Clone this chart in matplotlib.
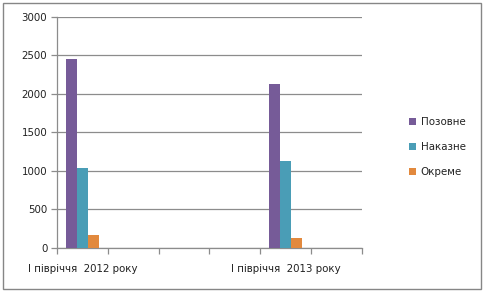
"""
Grouped bar chart: court cases by type, first half of 2012 vs 2013
"""

import matplotlib
matplotlib.use('Agg')
import matplotlib.pyplot as plt
from matplotlib.patches import Rectangle, Patch
import numpy as np

# data (6 category slots, only two carry values / labels)
categories = ['I півріччя  2012 року', '', '', '', 'I півріччя  2013 року', '']
series_names = ['Позовне', 'Наказне', 'Окреме']
pozovne = [2450, np.nan, np.nan, np.nan, 2125, np.nan]
nakazne = [1030, np.nan, np.nan, np.nan, 1125, np.nan]
okreme = [165, np.nan, np.nan, np.nan, 130, np.nan]

COLORS = ['#765B98', '#4A9DB6', '#E2893D']
GRID = '#8C8C8C'
FS = 7.4

W, H = 485, 293
fig = plt.figure(figsize=(W / 100, H / 100), dpi=100)
plt.rcParams['font.family'] = ['DejaVu Sans']

# axes area in pixel coords
x0, x1 = 57, 362
y_top, y_bot = 16.7, 247.7
ax = fig.add_axes([x0 / W, (H - y_bot) / H, (x1 - x0) / W, (y_bot - y_top) / H])

x = np.arange(len(categories))
bw = 0.215
for i, vals in enumerate([pozovne, nakazne, okreme]):
    ax.bar(x + (i - 1) * bw, vals, width=bw, color=COLORS[i],
           label=series_names[i], zorder=3)

ax.set_xlim(-0.5, len(categories) - 0.5)
ax.set_ylim(0, 3000)
ax.set_yticks(np.arange(0, 3001, 500))
ax.yaxis.grid(True, color=GRID, linewidth=0.9, zorder=0)
ax.tick_params(axis='y', length=4, color=GRID, width=0.9, pad=3,
               labelsize=FS, labelcolor='#222222')

# category labels centered, tick marks at category boundaries
ax.set_xticks(x)
ax.set_xticklabels(categories, fontsize=FS, color='#222222')
ax.tick_params(axis='x', which='major', length=0, pad=12)
ax.set_xticks(np.arange(-0.5, len(categories), 1.0), minor=True)
ax.tick_params(axis='x', which='minor', length=4, color=GRID, width=0.9)

for side in ['top', 'right']:
    ax.spines[side].set_visible(False)
for side in ['left', 'bottom']:
    ax.spines[side].set_color(GRID)
    ax.spines[side].set_linewidth(0.9)

# legend on the right
handles = [Patch(facecolor=c, edgecolor='none') for c in COLORS]
fig.legend(handles, series_names, loc='center left',
           bbox_to_anchor=(400 / W, 1 - 147 / H), frameon=False,
           fontsize=FS, handlelength=0.7, handleheight=0.7,
           handletextpad=0.4, labelspacing=1.45, labelcolor='#222222')

# outer chart border
fig.patches.append(Rectangle((3 / W, 4 / H), 478 / W, 286 / H,
                             transform=fig.transFigure, fill=False,
                             edgecolor='#868686', linewidth=1.0))

plt.savefig('out.png', dpi=100, facecolor='white')
